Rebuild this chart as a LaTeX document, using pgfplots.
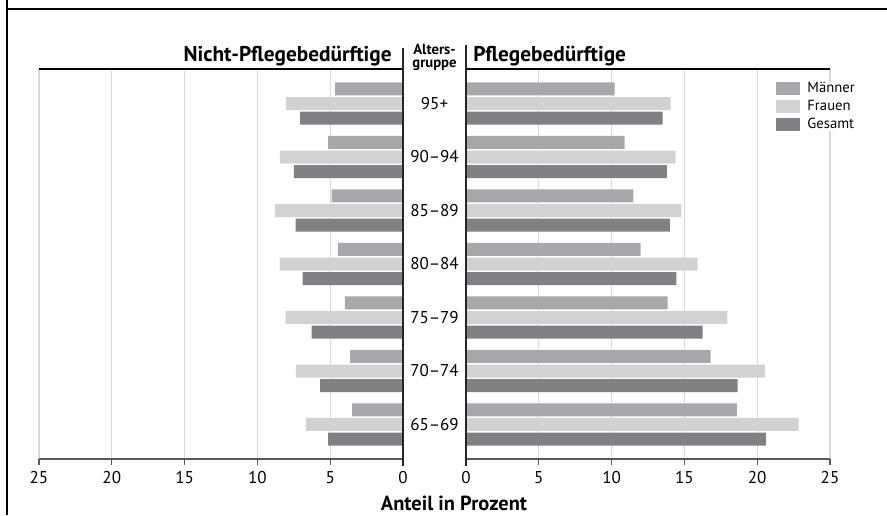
\documentclass[border=0pt]{standalone}
\usepackage{pgfplots}
\pgfplotsset{compat=1.18}
\usepackage{fontspec}
\setmainfont{PT Sans}
\definecolor{cM}{HTML}{A7A8AB}
\definecolor{cF}{HTML}{D1D2D4}
\definecolor{cG}{HTML}{808184}
\definecolor{axgray}{HTML}{58595B}
\definecolor{gridgray}{HTML}{D9D9D9}
\pgfplotsset{
 panel/.style={
  scale only axis, width=273pt, height=292.5pt,
  xmin=0, xmax=25, ymin=-0.645, ymax=6.645,
  xbar, bar width=9.75pt,
  xtick={0,5,...,25}, ytick=\empty,
  axis line style={draw=none},
  xmajorgrids, grid style={gridgray, line width=0.9pt},
  xtick pos=bottom, tick align=outside, major tick length=4.5pt,
  tick style={axgray, line width=0.9pt},
  /pgf/number format/assume math mode=true,
  ticklabel style={font=\fontsize{12.8}{14}\selectfont},
  xticklabel style={yshift=-1.5pt},
  clip=false,
 },
 pM/.style={fill=cM, draw=none, bar shift=10.9pt},
 pF/.style={fill=cF, draw=none, bar shift=0pt},
 pG/.style={fill=cG, draw=none, bar shift=-10.9pt},
}
\begin{document}
\begin{tikzpicture}[x=0.75pt,y=0.75pt]
\path[use as bounding box] (0,0) rectangle (887,515);
% Left panel: Nicht-Pflegebeduerftige
\begin{axis}[panel, at={(29.25pt,42pt)}, anchor=south west, x dir=reverse]
\addplot[pM] coordinates {(3.5,0) (3.64,1) (4.0,2) (4.48,3) (4.9,4) (5.15,5) (4.67,6)};
\addplot[pF] coordinates {(6.66,0) (7.35,1) (8.06,2) (8.47,3) (8.8,4) (8.45,5) (8.04,6)};
\addplot[pG] coordinates {(5.15,0) (5.7,1) (6.27,2) (6.9,3) (7.37,4) (7.5,5) (7.07,6)};
\end{axis}
% Right panel: Pflegebeduerftige
\begin{axis}[panel, at={(349.5pt,42pt)}, anchor=south west,
  ytick={0,1,2,3,4,5,6},
  yticklabels={65–69,70–74,75–79,80–84,85–89,90–94,95+},
  ytick pos=left, ytick style={draw=none},
  yticklabel style={anchor=center, xshift=-19.1pt, font=\fontsize{12.8}{14}\selectfont},
  legend style={at={(0.852,0.967)}, anchor=north west, draw=none, fill=white,
    inner sep=0pt, row sep=3.6pt, font=\fontsize{11}{13}\selectfont,
    nodes={inner sep=0pt},
    /tikz/every odd column/.append style={column sep=5.25pt}},
  legend cell align=left,
  legend image code/.code={\fill[#1] (0pt,-4.875pt) rectangle (18pt,4.875pt);},
]
\addplot[pM] coordinates {(18.6,0) (16.8,1) (13.85,2) (12.0,3) (11.5,4) (10.9,5) (10.2,6)};
\addplot[pF] coordinates {(22.85,0) (20.55,1) (17.95,2) (15.9,3) (14.8,4) (14.4,5) (14.05,6)};
\addplot[pG] coordinates {(20.6,0) (18.65,1) (16.25,2) (14.45,3) (14.0,4) (13.8,5) (13.5,6)};
\legend{Männer,Frauen,Gesamt}
\end{axis}
% frame
\draw[black, line width=1pt] (7,515) -- (7,506) -- (887,506);
\draw[black, line width=1pt] (7,506) -- (7,0);
% top lines
\draw[black, line width=0.8pt] (39,446) -- (403,446);
\draw[black, line width=0.8pt] (466,446) -- (830,446);
% bottom axis lines
\draw[axgray, line width=1.1pt] (39,56) -- (403,56);
\draw[axgray, line width=1.1pt] (466,56) -- (830,56);
% center vertical lines
\draw[black!85, line width=0.9pt] (403,467) -- (403,49);
\draw[black!85, line width=0.9pt] (466,470) -- (466,49);
% titles
\node[anchor=base east, inner sep=0pt, font=\bfseries\fontsize{16}{19}\selectfont] at (392,453) {Nicht-Pflegebedürftige};
\node[anchor=base west, inner sep=0pt, font=\bfseries\fontsize{16}{19}\selectfont] at (473,453) {Pflegebedürftige};
\node[anchor=base, inner sep=0pt, font=\bfseries\fontsize{11}{12}\selectfont] at (434.5,460.5) {Alters-};
\node[anchor=base, inner sep=0pt, font=\bfseries\fontsize{11}{12}\selectfont] at (434.5,447) {gruppe};
\node[anchor=base, inner sep=0pt, font=\bfseries\fontsize{15.3}{17}\selectfont] at (454,5) {Anteil in Prozent};
\end{tikzpicture}
\end{document}
